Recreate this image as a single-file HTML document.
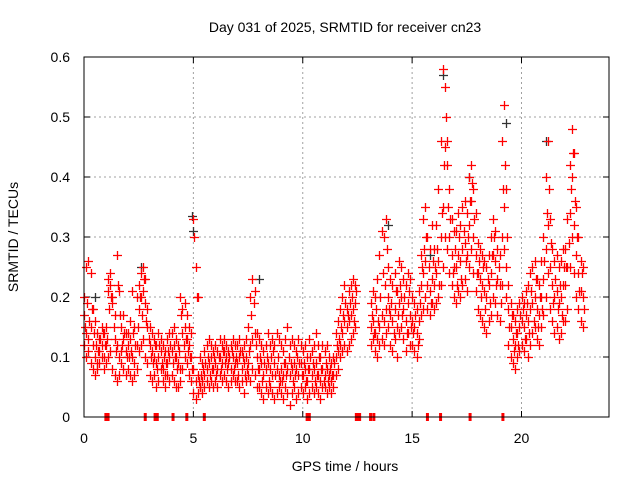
<!DOCTYPE html>
<html><head><meta charset="utf-8"><style>
html,body{margin:0;padding:0;background:#fff;}
svg{display:block;font-family:"Liberation Sans",sans-serif;}
</style></head><body>
<svg id="chart" width="640" height="480" viewBox="0 0 640 480" xmlns="http://www.w3.org/2000/svg">
<rect x="0" y="0" width="640" height="480" fill="#fff"/>
<text x="345" y="32" font-size="14" text-anchor="middle" fill="#000">Day 031 of 2025, SRMTID for receiver cn23</text>
<g id="grid"></g>
<g id="axes"></g>
<g id="marks"></g>
<rect x="84" y="57" width="525" height="360" fill="none" stroke="#000" stroke-width="1"/>
<text x="345" y="471" font-size="14" text-anchor="middle">GPS time / hours</text>
<text x="0" y="0" font-size="14" text-anchor="middle" transform="translate(18,237) rotate(-90)">SRMTID / TECUs</text>
</svg>
<script>
const xTicks = [0, 5, 10, 15, 20];
const yTicks = [0, 0.1, 0.2, 0.3, 0.4, 0.5, 0.6];
const yTickLabels = ["0", "0.1", "0.2", "0.3", "0.4", "0.5", "0.6"];
const hourStarts = [0,1,2,3,4,5,6,7,8,9,10,11,12,13,14,15,16,17,18,19,20,21,22];
const seriesA = [
[.17,.14,.13,.15,.12,.10,.09,.11,.12,.10],
[.12,.21,.22,.20,.13,.12,.10,.11,.13,.11],
[.12,.13,.10,.09,.12,.18,.20,.21,.19,.15],
[.12,.11,.10,.09,.10,.11,.08,.07,.09,.10],
[.11,.12,.10,.09,.08,.14,.15,.13,.12,.10],
[.08,.06,.07,.05,.06,.07,.08,.09,.10,.08],
[.09,.08,.10,.09,.11,.10,.09,.08,.10,.09],
[.09,.10,.08,.09,.10,.09,.12,.13,.14,.10],
[.08,.09,.07,.08,.09,.08,.07,.09,.08,.07],
[.08,.07,.09,.08,.07,.08,.09,.08,.07,.09],
[.07,.08,.06,.08,.07,.08,.09,.07,.06,.08],
[.07,.08,.07,.06,.07,.10,.11,.12,.14,.16],
[.15,.16,.17,.18,.19,null,null,null,null,null],
[null,.15,.16,.14,.13,.15,.17,.16,.18,.20],
[.17,.16,.18,.15,.19,.20,.18,.16,.19,.17],
[.16,.15,.14,.16,.22,.24,.26,.22,.21,.23],
[.22,.24,.26,.30,.35,.45,.42,.30,.27,.25],
[.25,.27,.26,.28,.29,.27,.32,.36,.30,.27],
[.24,.23,.22,.21,.20,.22,.24,.27,.26,.23],
[.22,.30,.35,.25,.18,.15,.13,.12,.14,.15],
[.16,.15,.17,.16,.18,.19,.20,.18,.17,.20],
[.23,.28,.32,.25,.22,.20,.21,.19,.20,.22],
[.22,.25,.34,.40,.32,.27,.24,.21,.20,null]];
const seriesB = [
[.20,.25,.26,.24,.18,.16,.14,.13,.15,.14],
[.15,.23,.24,.19,.17,.27,.21,.15,.17,.14],
[.14,.16,.21,.15,.20,.22,.24,.25,.23,.18],
[.15,.14,.13,.12,.14,.13,.12,.11,.13,.14],
[.14,.15,.13,.12,.20,.18,.19,.17,.15,.14],
[.33,.25,.20,.10,.09,.11,.12,.13,.12,.11],
[.12,.11,.13,.12,.13,.12,.11,.12,.13,.12],
[.12,.13,.11,.12,.13,.15,.20,.23,.21,.14],
[.13,.12,.11,.12,.14,.12,.13,.12,.14,.13],
[.12,.11,.13,.15,.12,.13,.12,.11,.13,.12],
[.11,.12,.10,.13,.11,.12,.14,.12,.10,.12],
[.11,.12,.10,.09,.10,.14,.16,.18,.20,.22],
[.18,.21,.22,.23,.22,null,null,null,null,null],
[null,.19,.21,.20,.23,.27,.31,.30,.33,.25],
[.23,.22,.24,.21,.26,.25,.23,.22,.24,.23],
[.20,.19,.18,.21,.27,.33,.35,.30,.28,.32],
[.28,.32,.38,.46,.58,.55,.46,.38,.33,.31],
[.31,.34,.32,.35,.36,.34,.40,.42,.38,.34],
[.29,.28,.27,.26,.25,.27,.30,.33,.31,.28],
[.27,.46,.52,.38,.22,.19,.17,.16,.18,.19],
[.20,.19,.21,.22,.24,.25,.26,.23,.22,.26],
[.30,.40,.46,.33,.28,.26,.27,.25,.26,.28],
[.28,.33,.42,.48,.44,.35,.30,.26,.25,null]];
const seriesC = [
[.12,.10,.11,.09,.08,.07,.08,.09,.10,.08],
[.09,.10,.11,.08,.07,.06,.07,.09,.08,.07],
[.08,.07,.06,.07,.08,.11,.12,.13,.10,.09],
[.07,.06,.07,.05,.06,.08,.06,.05,.07,.06],
[.07,.06,.05,.05,.06,.08,.10,.09,.07,.06],
[.04,.03,.04,.05,.04,.05,.06,.05,.06,.05],
[.06,.05,.07,.06,.07,.06,.05,.06,.07,.06],
[.06,.05,.06,.04,.06,.07,.06,.08,.07,.05],
[.05,.04,.03,.05,.04,.05,.04,.03,.04,.05],
[.04,.03,.05,.04,.02,.04,.05,.03,.04,.05],
[.04,.05,.03,.04,.05,.04,.05,.04,.03,.05],
[.05,.04,.05,.04,.05,.07,.08,.10,.11,.12],
[.11,.12,.13,.14,.15,null,null,null,null,null],
[null,.12,.13,.11,.10,.12,.13,.12,.14,.15],
[.12,.11,.13,.10,.14,.15,.13,.11,.14,.12],
[.12,.11,.10,.13,.17,.18,.20,.18,.17,.19],
[.18,.19,.20,.22,.25,.30,.28,.24,.22,.20],
[.19,.21,.20,.22,.23,.21,.25,.28,.24,.21],
[.18,.17,.16,.15,.14,.16,.17,.20,.19,.17],
[.16,.22,.28,.20,.12,.10,.09,.08,.10,.11],
[.12,.11,.13,.10,.12,.14,.15,.13,.12,.15],
[.17,.20,.24,.18,.16,.14,.15,.13,.14,.16],
[.16,.18,.25,.30,.24,.20,.18,.16,.15,null]];
const seriesD = [
[.15,.19,.16,.18,.14,.12,.11,.13,.14,.12],
[.13,.18,.20,.15,.11,.22,.17,.12,.14,.10],
[.10,.11,.14,.12,.15,.20,.17,.23,.16,.13],
[.10,.09,.12,.08,.12,.09,.10,.09,.11,.12],
[.09,.10,.08,.11,.17,.12,.13,.11,.10,.08],
[.30,.20,.06,.07,.08,.09,.10,.07,.08,.10],
[.07,.10,.08,.11,.09,.08,.10,.11,.08,.10],
[.07,.11,.10,.07,.08,.11,.17,.19,.12,.08],
[.10,.06,.09,.10,.06,.10,.11,.07,.10,.06],
[.06,.09,.07,.10,.09,.06,.07,.10,.09,.07],
[.09,.06,.08,.10,.09,.06,.07,.10,.08,.06],
[.09,.06,.08,.07,.09,.12,.13,.15,.17,.19],
[.17,.19,.20,.16,.21,null,null,null,null,null],
[null,.17,.14,.18,.16,.20,.24,.22,.28,.18],
[.19,.14,.21,.17,.22,.17,.20,.14,.21,.15],
[.14,.17,.12,.19,.25,.28,.30,.25,.19,.26],
[.25,.28,.22,.34,.42,.50,.35,.33,.24,.28],
[.22,.30,.23,.31,.26,.30,.36,.39,.33,.24],
[.26,.20,.25,.18,.23,.19,.27,.30,.22,.25],
[.19,.38,.42,.30,.15,.17,.11,.14,.12,.17],
[.18,.13,.19,.14,.21,.16,.23,.15,.20,.18],
[.26,.34,.38,.29,.19,.23,.18,.22,.17,.25],
[.25,.29,.38,.44,.36,.30,.21,.24,.18,null]];
const darkTimes = [4.95, 4.97, 19.3, 21.1, 16.4, 17.6, 8.0, 0.5, 13.9, 2.6, 15.8];
const darkValues = [0.335, 0.31, 0.49, 0.46, 0.57, 0.40, 0.23, 0.20, 0.32, 0.25, 0.27];
const zeroTimes = [1.0, 1.1, 2.8, 3.25, 3.35, 4.07, 4.7, 5.5, 10.2, 10.3, 12.45, 12.55, 12.6, 13.1, 13.25, 15.7, 16.3, 17.65, 19.15];

const X0 = 84, X1 = 609, Y0 = 417, Y1 = 57;
const xScale = v => X0 + (v / 24) * (X1 - X0);
const yScale = v => Y0 - (v / 0.6) * (Y0 - Y1);
const NS = "http://www.w3.org/2000/svg";
const grid = document.getElementById('grid');
const axes = document.getElementById('axes');
const marks = document.getElementById('marks');

function mk(tag, attrs, parent) {
  const e = document.createElementNS(NS, tag);
  for (const k in attrs) e.setAttribute(k, attrs[k]);
  parent.appendChild(e);
  return e;
}

xTicks.forEach(t => {
  const x = xScale(t);
  if (t > 0) {
    const g = mk('line', {x1: x, x2: x, y1: Y1, y2: Y0, stroke: '#a0a0a0', 'stroke-dasharray': '2,3'}, grid);
    
    
  }
  const tk = mk('path', {d: `M${x},${Y0}v-6M${x},${Y1}v6`, stroke: '#000'}, axes);
  
  
  const lb = mk('text', {x: x, y: 443, 'font-size': 14, 'text-anchor': 'middle'}, axes);
  lb.textContent = String(t);
  
  
});
yTicks.forEach((t, i) => {
  const y = yScale(t);
  if (t > 0 && t < 0.6) {
    const g = mk('line', {x1: X0, x2: X1, y1: y, y2: y, stroke: '#a0a0a0', 'stroke-dasharray': '2,3'}, grid);
    
    
  }
  const tk = mk('path', {d: `M${X0},${y}h6M${X1},${y}h-6`, stroke: '#000'}, axes);
  
  
  const lb = mk('text', {x: 70, y: y + 5, 'font-size': 14, 'text-anchor': 'end'}, axes);
  lb.textContent = yTickLabels[i];
  
  
});

function plus(t, v, color, name) {
  const x = Math.round(xScale(t)) + 0.5, y = Math.round(yScale(v)) + 0.5;
  const p = mk('path', {d: `M${x-4.5},${y}h9M${x},${y-4.5}v9`, stroke: color, 'stroke-width': 1.3, fill: 'none'}, marks);
  
  
}

darkTimes.forEach((t, i) => plus(t, darkValues[i], '#333', 'dark-point'));
[seriesA, seriesB, seriesC].forEach(series => {
  series.forEach((row, h) => {
    row.forEach((v, k) => {
      if (v === null) return;
      plus(hourStarts[h] + k / 10, v, '#ff0000', 'srmtid-point');
    });
  });
});
seriesD.forEach((row, h) => {
  row.forEach((v, k) => {
    if (v === null) return;
    plus(hourStarts[h] + k / 10 + 0.05, v, '#ff0000', 'srmtid-point');
  });
});
zeroTimes.forEach(t => {
  const x = xScale(t);
  const p = mk('rect', {x: x - 1.5, y: Y0 - 4, width: 3, height: 8, fill: '#ff0000'}, marks);
  
  
});
</script>
</body></html>
